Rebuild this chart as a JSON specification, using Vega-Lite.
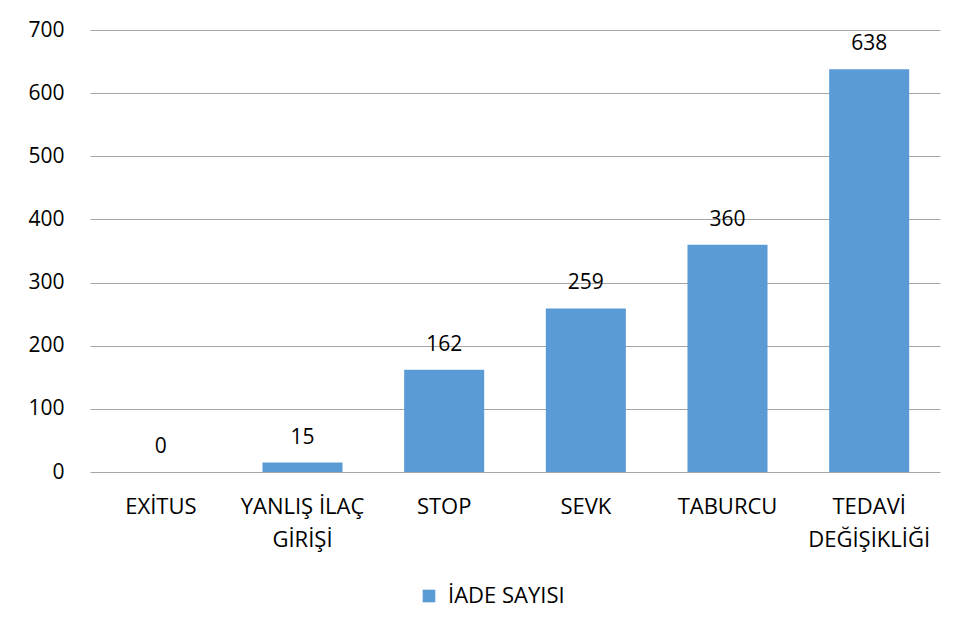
{
  "$schema": "https://vega.github.io/schema/vega-lite/v6.json",
  "width": 850,
  "height": 442,
  "autosize": {"type": "none"},
  "padding": {"left": 90, "top": 30, "right": 16, "bottom": 165},
  "background": "white",
  "data": {
    "values": [
      {"kategori": "EXİTUS", "deger": 0, "seri": "İADE SAYISI"},
      {"kategori": "YANLIŞ İLAÇ GİRİŞİ", "deger": 15, "seri": "İADE SAYISI"},
      {"kategori": "STOP", "deger": 162, "seri": "İADE SAYISI"},
      {"kategori": "SEVK", "deger": 259, "seri": "İADE SAYISI"},
      {"kategori": "TABURCU", "deger": 360, "seri": "İADE SAYISI"},
      {"kategori": "TEDAVİ DEĞİŞİKLİĞİ", "deger": 638, "seri": "İADE SAYISI"}
    ]
  },
  "encoding": {
    "x": {
      "field": "kategori",
      "type": "nominal",
      "sort": null,
      "scale": {"paddingInner": 0.435, "paddingOuter": 0.2175},
      "axis": {
        "title": null,
        "labelAngle": 0,
        "labelFont": "Open Sans",
        "labelFontSize": 22,
        "labelColor": "#000000",
        "labelPadding": 24,
        "ticks": false,
        "domain": false,
        "labelLineHeight": 33,
        "labelBaseline": "top",
        "labelExpr": "datum.label == 'YANLIŞ İLAÇ GİRİŞİ' ? ['YANLIŞ İLAÇ', 'GİRİŞİ'] : datum.label == 'TEDAVİ DEĞİŞİKLİĞİ' ? ['TEDAVİ', 'DEĞİŞİKLİĞİ'] : datum.label"
      }
    },
    "y": {
      "field": "deger",
      "type": "quantitative",
      "scale": {"domain": [0, 700], "nice": false},
      "axis": {
        "title": null,
        "values": [0, 100, 200, 300, 400, 500, 600, 700],
        "labelFont": "Open Sans",
        "labelFontSize": 21,
        "labelColor": "#000000",
        "labelPadding": 26,
        "ticks": false,
        "domain": false,
        "grid": true,
        "gridColor": "#a6a6a6",
        "gridWidth": 1
      }
    }
  },
  "layer": [
    {
      "mark": {"type": "bar", "color": "#5B9BD5"},
      "encoding": {
        "color": {
          "field": "seri",
          "type": "nominal",
          "scale": {"range": ["#5B9BD5"]},
          "legend": {
            "title": null,
            "orient": "none",
            "legendX": 328,
            "legendY": 555,
            "symbolType": "square",
            "symbolSize": 160,
            "symbolStrokeWidth": 0,
            "symbolOpacity": 1,
            "labelFont": "Open Sans",
            "labelFontSize": 22,
            "labelColor": "#000000",
            "labelOffset": 8
          }
        }
      }
    },
    {
      "mark": {"type": "text", "baseline": "bottom", "dy": -15, "font": "Open Sans", "fontSize": 21, "color": "#000000"},
      "encoding": {"text": {"field": "deger", "type": "quantitative"}}
    }
  ],
  "config": {"view": {"stroke": null}}
}
